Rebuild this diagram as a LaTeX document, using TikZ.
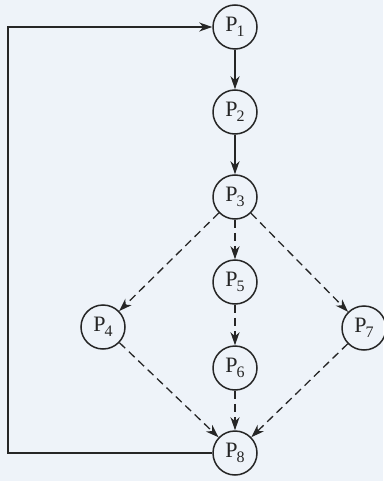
\documentclass[tikz,border=0pt]{standalone}
\usepackage{fontspec}
\setmainfont{Liberation Serif}
\usetikzlibrary{arrows.meta}
\definecolor{bgc}{HTML}{EEF3F9}
\definecolor{ink}{HTML}{262626}
\newcommand{\pn}[1]{P\kern-0.8pt\raisebox{-5pt}{\fontsize{16}{16}\selectfont #1}}
\tikzset{
  proc/.style={circle, draw=ink, line width=1.5pt, minimum size=44pt, inner sep=0pt,
    font=\fontsize{22}{25}\selectfont, text=ink},
  arr/.style={draw=ink, line width=1.3pt, -{Stealth[length=13pt,width=9pt,inset=4pt]}},
  darr/.style={arr, dash pattern=on 8pt off 5pt}
}
\begin{document}
\begin{tikzpicture}[x=1pt,y=-1pt]
\fill[bgc] (0,0) rectangle (383,481);
\useasboundingbox (0,0) rectangle (383,481);
\node[proc] (p1) at (235,27) {\pn{1}};
\node[proc] (p2) at (235,112) {\pn{2}};
\node[proc] (p3) at (235,197) {\pn{3}};
\node[proc] (p5) at (235,282) {\pn{5}};
\node[proc] (p4) at (103,327) {\pn{4}};
\node[proc] (p7) at (364,328) {\pn{7}};
\node[proc] (p6) at (235,368) {\pn{6}};
\node[proc] (p8) at (235,453) {\pn{8}};
\coordinate (c1) at (8,453);
\coordinate (c2) at (8,27);
\draw[arr] (p1) -- (p2);
\draw[arr] (p2) -- (p3);
\draw[darr] (p3) -- (p4);
\draw[darr] (p3) -- (p5);
\draw[darr] (p3) -- (p7);
\draw[darr] (p5) -- (p6);
\draw[darr] (p4) -- (p8);
\draw[darr] (p6) -- (p8);
\draw[darr] (p7) -- (p8);
\draw[arr] (p8.west) -- (c1) -- (c2) -- (p1.west);
\end{tikzpicture}
\end{document}
